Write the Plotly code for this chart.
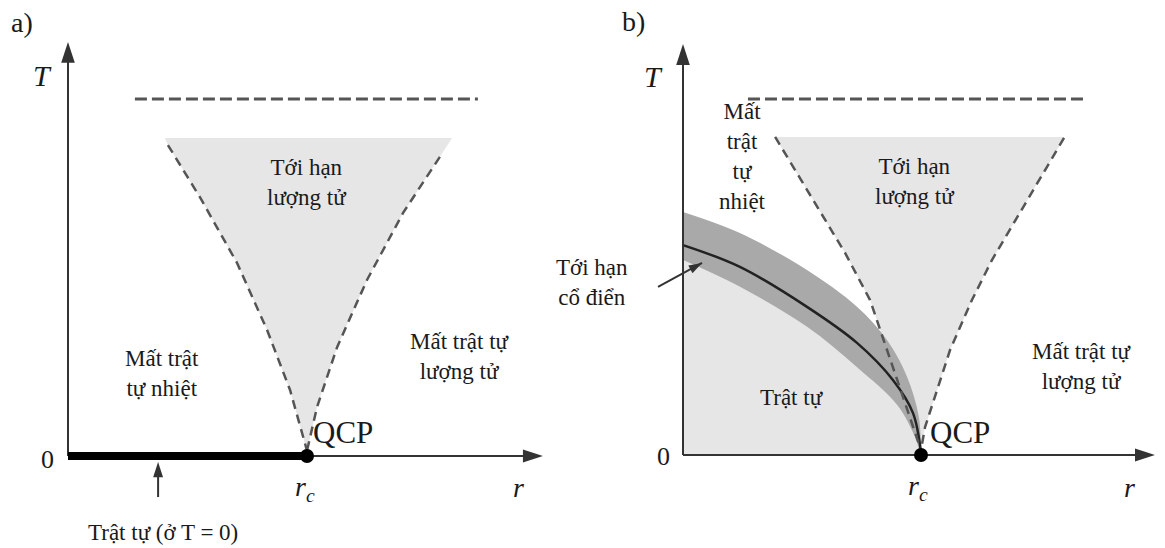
import plotly.graph_objects as go

W, H = 1165, 548

# ---------------- data (r in units of r_c, T in units of crossover T) -------------
RC = 1.0

# Panel a
A_AXIS_R_TIP = 1.987
A_AXIS_T_TIP = 1.160
A_CROSS_R = [0.280, 1.715]
A_CROSS_T = [1.000, 1.000]
A_FAN_TOP_T = 0.891
A_FAN_TOP_R = [0.406, 1.607]
A_LEFT_R = [0.418, 0.552, 0.707, 0.833, 0.929, 1.000]
A_LEFT_T = [0.871, 0.725, 0.541, 0.353, 0.185, 0.015]
A_RIGHT_R = [1.556, 1.402, 1.251, 1.126, 1.042, 1.000]
A_RIGHT_T = [0.838, 0.681, 0.493, 0.305, 0.137, 0.015]
A_ORDER_R = [0.0, 1.0]
A_ORDER_T = [0.0, 0.0]
A_POINTER_R = [0.377, 0.377]
A_POINTER_T = [-0.115, -0.017]

# Panel b
B_AXIS_R_TIP = 1.983
B_AXIS_T_TIP = 1.151
B_CROSS_R = [0.273, 1.697]
B_CROSS_T = [0.997, 0.997]
B_FAN_TOP_T = 0.891
B_FAN_TOP_R = [0.387, 1.601]
B_LEFT_R = [0.387, 0.496, 0.681, 0.786, 0.882, 0.975, 1.000]
B_LEFT_T = [0.891, 0.770, 0.566, 0.434, 0.246, 0.062, 0.014]
B_RIGHT_R = [1.601, 1.298, 1.214, 1.122, 1.017, 1.000]
B_RIGHT_T = [0.888, 0.546, 0.434, 0.294, 0.078, 0.014]
B_LINE_R = [0.0, 0.239, 0.521, 0.731, 0.882, 0.966, 1.000]
B_LINE_T = [0.588, 0.527, 0.415, 0.314, 0.210, 0.118, 0.006]
B_UP_R = [0.0, 0.239, 0.521, 0.731, 0.857, 0.941, 0.990, 1.000]
B_UP_T = [0.681, 0.622, 0.518, 0.415, 0.322, 0.220, 0.110, 0.020]
B_LO_R = [0.0, 0.239, 0.521, 0.731, 0.900, 0.975, 1.000]
B_LO_T = [0.546, 0.471, 0.359, 0.246, 0.140, 0.050, 0.000]
B_POINTER_R = [-0.105, 0.080]
B_POINTER_T = [0.471, 0.538]

# ---------------- styles ----------------
LIGHT = "#e6e6e6"
BAND = "#a9a9a9"
DASH = "#555555"
AXC = "#333333"
TXT = "#1a1a1a"
FONT = "Liberation Serif, Times New Roman, DejaVu Serif, serif"

fig = go.Figure()


def add(tr, panel):
    if panel == "b":
        tr.update(xaxis="x2", yaxis="y2")
    fig.add_trace(tr)


def line(x, y, panel, color, width, dash=None, shape="linear"):
    add(go.Scatter(x=x, y=y, mode="lines", hoverinfo="skip",
                   line=dict(color=color, width=width, dash=dash, shape=shape)), panel)


def arrowhead(x, y, angle, size, panel):
    add(go.Scatter(x=[x], y=[y], mode="markers", hoverinfo="skip",
                   marker=dict(symbol="arrow", angle=angle, size=size, color=AXC,
                               line=dict(width=0))), panel)


# ---- panel a ----
add(go.Scatter(x=A_FAN_TOP_R + A_RIGHT_R + A_LEFT_R[::-1],
               y=[A_FAN_TOP_T, A_FAN_TOP_T] + A_RIGHT_T + A_LEFT_T[::-1],
               mode="lines", fill="toself", fillcolor=LIGHT,
               line=dict(width=0, color=LIGHT), hoverinfo="skip"), "a")
line(A_LEFT_R, A_LEFT_T, "a", DASH, 2.5, "9px,6px")
line(A_RIGHT_R, A_RIGHT_T, "a", DASH, 2.5, "9px,6px")
line(A_CROSS_R, A_CROSS_T, "a", DASH, 3, "12px,5px")
line([0, A_AXIS_R_TIP - 0.03], [0, 0], "a", AXC, 2)
line([0, 0], [0, A_AXIS_T_TIP - 0.03], "a", AXC, 2)
arrowhead(A_AXIS_R_TIP, 0, 90, 21, "a")
arrowhead(0, A_AXIS_T_TIP, 0, 22, "a")
line(A_ORDER_R, A_ORDER_T, "a", "#000000", 8)
add(go.Scatter(x=[RC], y=[0], mode="markers", hoverinfo="skip",
               marker=dict(size=14, color="#000000")), "a")
line(A_POINTER_R, [A_POINTER_T[0], A_POINTER_T[1] - 0.02], "a", AXC, 2)
arrowhead(A_POINTER_R[1], A_POINTER_T[1], 0, 16, "a")

# ---- panel b ----
add(go.Scatter(x=B_FAN_TOP_R + B_RIGHT_R + B_LEFT_R[::-1],
               y=[B_FAN_TOP_T, B_FAN_TOP_T] + B_RIGHT_T + B_LEFT_T[::-1],
               mode="lines", fill="toself", fillcolor=LIGHT,
               line=dict(width=0, color=LIGHT), hoverinfo="skip"), "b")
add(go.Scatter(x=B_LO_R, y=B_LO_T, mode="lines", fill="tozeroy", fillcolor=LIGHT,
               line=dict(width=0, color=LIGHT, shape="spline"), hoverinfo="skip"), "b")
add(go.Scatter(x=B_UP_R + B_LO_R[::-1], y=B_UP_T + B_LO_T[::-1],
               mode="lines", fill="toself", fillcolor=BAND,
               line=dict(width=0, color=BAND, shape="spline"), hoverinfo="skip"), "b")
line(B_LINE_R, B_LINE_T, "b", "#222222", 2.5, None, "spline")
line(B_LEFT_R, B_LEFT_T, "b", DASH, 2.5, "9px,6px")
line(B_RIGHT_R, B_RIGHT_T, "b", DASH, 2.5, "9px,6px")
line(B_CROSS_R, B_CROSS_T, "b", DASH, 3, "12px,5px")
line([0, B_AXIS_R_TIP - 0.03], [0, 0], "b", AXC, 2)
line([0, 0], [0, B_AXIS_T_TIP - 0.03], "b", AXC, 2)
arrowhead(B_AXIS_R_TIP, 0, 90, 21, "b")
arrowhead(0, B_AXIS_T_TIP, 0, 22, "b")
add(go.Scatter(x=[RC], y=[0], mode="markers", hoverinfo="skip",
               marker=dict(size=14, color="#000000")), "b")
line(B_POINTER_R, B_POINTER_T, "b", AXC, 2)
arrowhead(B_POINTER_R[1], B_POINTER_T[1], 61, 14, "b")

# ---------------- text ----------------
ann = []


def txt(text, x, y, panel, size=23):
    ref = "x" if panel == "a" else "x2"
    yref = "y" if panel == "a" else "y2"
    ann.append(dict(text=text, x=x, y=y, xref=ref, yref=yref, showarrow=False,
                    xanchor="center", yanchor="middle",
                    font=dict(family=FONT, size=size, color=TXT)))


for label, px, py in [("a)", 22, 23), ("b)", 633, 21)]:
    ann.append(dict(text=label, x=px / W, y=1 - py / H, xref="paper", yref="paper",
                    xanchor="center", yanchor="middle", showarrow=False,
                    font=dict(family=FONT, size=28, color=TXT)))

txt("<i>T</i>", -0.105, 1.067, "a", 30)
txt("0", -0.084, -0.011, "a", 26)
txt("<i>r</i><sub><i>c</i></sub>", 0.992, -0.09, "a", 28)
txt("<i>r</i>", 1.883, -0.087, "a", 28)
txt("Tới hạn<br>lượng tử", 1.0, 0.767, "a")
txt("Mất trật<br>tự nhiệt", 0.393, 0.232, "a")
txt("Mất trật tự<br>lượng tử", 1.640, 0.280, "a")
txt("QCP", 1.151, 0.067, "a", 31)
txt("Trật tự (ở T = 0)", 0.397, -0.213, "a")

txt("<i>T</i>", -0.122, 1.059, "b", 30)
txt("0", -0.084, -0.005, "b", 26)
txt("<i>r</i><sub><i>c</i></sub>", 0.987, -0.092, "b", 28)
txt("<i>r</i>", 1.878, -0.092, "b", 28)
txt("Tới hạn<br>lượng tử", 0.975, 0.765, "b")
txt("Mất<br>trật<br>tự<br>nhiệt", 0.248, 0.835, "b")
txt("Tới hạn<br>cổ điển", -0.382, 0.482, "b")
txt("Trật tự", 0.458, 0.160, "b")
txt("Mất trật tự<br>lượng tử", 1.676, 0.249, "b")
txt("QCP", 1.164, 0.064, "b", 31)

hidden = dict(visible=False, showgrid=False, zeroline=False, fixedrange=True)
fig.update_layout(
    width=W, height=H, margin=dict(l=0, r=0, t=0, b=0),
    paper_bgcolor="white", plot_bgcolor="white", showlegend=False,
    annotations=ann,
    xaxis=dict(hidden, domain=[0, 580 / W], range=[-68 / 239, (580 - 68) / 239]),
    yaxis=dict(hidden, domain=[0, 1], range=[(456 - 548) / 357, 456 / 357]),
    xaxis2=dict(hidden, domain=[580 / W, 1], range=[(580 - 683) / 238, (1165 - 683) / 238]),
    yaxis2=dict(hidden, domain=[0, 1], range=[(455 - 548) / 357, 455 / 357]),
)

fig.write_html("out.html")
